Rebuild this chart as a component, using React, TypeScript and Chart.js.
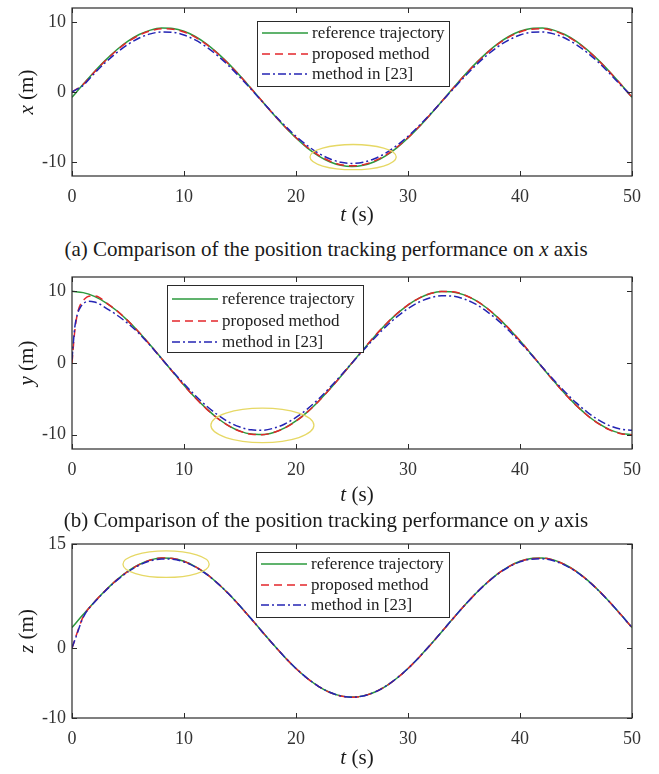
import React, { useEffect, useRef } from "react";
import { Chart, registerables } from "chart.js";

Chart.register(...registerables);

// ---------------- DATA ----------------
const T = [0,1,2,3,4,5,6,7,8,9,10,11,12,13,14,15,16,17,18,19,20,21,22,23,24,25,26,27,28,29,30,31,32,33,34,35,36,37,38,39,40,41,42,43,44,45,46,47,48,49,50];
const T_Y = [0,0.25,0.5,0.8,1.1,1.5,2,2.5,3,4,5,6,7,8,9,10,11,12,13,14,15,16,17,18,19,20,21,22,23,24,25,26,27,28,29,30,31,32,33,34,35,36,37,38,39,40,41,42,43,44,45,46,47,48,49,50];
const T_Z = [0,0.3,0.6,0.9,1.2,2,3,4,5,6,7,8,9,10,11,12,13,14,15,16,17,18,19,20,21,22,23,24,25,26,27,28,29,30,31,32,33,34,35,36,37,38,39,40,41,42,43,44,45,46,47,48,49,50];

const X_TICKS = [0, 10, 20, 30, 40, 50];
const XY_TICKS = [-10, 0, 10];
const Z_TICKS = [-10, 0, 15];

const SERIES_LABELS = ["reference trajectory", "proposed method", "method in [23]"];

// x axis (panel a)
const xReference = [-0.75,1.11,2.89,4.55,6.03,7.26,8.21,8.84,9.13,9.07,8.67,7.93,6.88,5.56,4.02,2.31,0.49,-1.37,-3.21,-4.97,-6.57,-7.97,-9.11,-9.96,-10.47,-10.65,-10.47,-9.96,-9.11,-7.97,-6.57,-4.97,-3.21,-1.37,0.49,2.31,4.02,5.56,6.88,7.93,8.67,9.07,9.13,8.84,8.21,7.26,6.03,4.55,2.89,1.11,-0.75];
const xProposed = [0,1.09,2.86,4.5,5.96,7.18,8.12,8.74,9.03,8.97,8.57,7.84,6.8,5.5,3.97,2.28,0.48,-1.37,-3.19,-4.92,-6.51,-7.89,-9.02,-9.86,-10.38,-10.55,-10.38,-9.86,-9.02,-7.89,-6.51,-4.92,-3.19,-1.37,0.48,2.28,3.97,5.5,6.8,7.84,8.57,8.97,9.03,8.74,8.12,7.18,5.96,4.5,2.86,1.09,-0.75];
const xMethod23 = [0,0.96,2.66,4.24,5.63,6.8,7.71,8.3,8.58,8.53,8.14,7.44,6.44,5.19,3.73,2.1,0.38,-1.39,-3.14,-4.8,-6.33,-7.65,-8.74,-9.54,-10.03,-10.2,-10.03,-9.54,-8.74,-7.65,-6.33,-4.8,-3.14,-1.39,0.38,2.1,3.73,5.19,6.44,7.44,8.14,8.53,8.58,8.3,7.71,6.8,5.63,4.24,2.66,0.96,-0.6];

// y axis (panel b)
const yReference = [10,9.82,9.3,8.44,7.29,5.88,4.26,2.49,0.63,-1.25,-3.09,-4.82,-6.37,-7.71,-8.76,-9.51,-9.92,-9.98,-9.69,-9.05,-8.09,-6.85,-5.36,-3.68,-1.87,0,1.87,3.68,5.36,6.85,8.09,9.05,9.69,9.98,9.92,9.51,8.76,7.71,6.37,4.82,3.09,1.25,-0.63,-2.49,-4.26,-5.88,-7.29,-8.44,-9.3,-9.82,-10];
const yProposed = [0,4.5,7.0,8.3,8.9,9.3,9.35,9.1,8.46,7.3,5.88,4.25,2.47,0.61,-1.27,-3.12,-4.85,-6.4,-7.73,-8.78,-9.53,-9.94,-10.0,-9.71,-9.07,-8.11,-6.86,-5.36,-3.67,-1.86,0.02,1.89,3.7,5.38,6.87,8.1,9.06,9.7,9.99,9.93,9.52,8.77,7.72,6.38,4.83,3.1,1.25,-0.63,-2.5,-4.28,-5.9,-7.31,-8.46,-9.33,-9.86,-10.05];
const yMethod23 = [0.5,5.0,6.9,7.9,8.4,8.6,8.5,8.2,7.7,6.7,5.5,4.1,2.4,0.59,-1.18,-2.9,-4.53,-5.99,-7.24,-8.24,-8.94,-9.33,-9.38,-9.1,-8.51,-7.6,-6.43,-5.04,-3.46,-1.76,0,1.76,3.46,5.04,6.43,7.6,8.51,9.1,9.38,9.33,8.94,8.24,7.24,5.99,4.53,2.9,1.18,-0.59,-2.34,-4.0,-5.53,-6.85,-7.94,-8.74,-9.23,-9.4];

// z axis (panel c)
const zReference = [3.0,4.87,6.68,8.36,9.85,11.09,12.05,12.69,12.98,12.92,12.51,11.76,10.71,9.37,7.82,6.09,4.25,2.37,0.51,-1.26,-2.88,-4.29,-5.44,-6.3,-6.82,-7.0,-6.82,-6.3,-5.44,-4.29,-2.88,-1.26,0.51,2.37,4.25,6.09,7.82,9.37,10.71,11.76,12.51,12.92,12.98,12.69,12.05,11.09,9.85,8.36,6.68,4.87,3.0];
const zProposed = [0,1.5,2.9,4.2,5.1,6.66,8.35,9.84,11.08,12.04,12.7,12.99,12.93,12.5,11.75,10.7,9.36,7.81,6.08,4.24,2.36,0.5,-1.27,-2.89,-4.3,-5.45,-6.31,-6.84,-7.02,-6.84,-6.31,-5.45,-4.3,-2.89,-1.27,0.5,2.36,4.24,6.08,7.81,9.36,10.7,11.75,12.5,12.91,12.97,12.68,12.04,11.08,9.84,8.35,6.67,4.86,2.99];
const zMethod23 = [0.1,1.4,2.8,4.1,5.05,6.62,8.3,9.78,11.0,11.95,12.58,12.85,12.8,12.42,11.7,10.67,9.35,7.81,6.09,4.25,2.37,0.51,-1.26,-2.88,-4.29,-5.44,-6.3,-6.83,-7.01,-6.83,-6.3,-5.44,-4.29,-2.88,-1.26,0.51,2.37,4.25,6.09,7.8,9.34,10.66,11.7,12.43,12.82,12.87,12.58,11.96,11.02,9.8,8.33,6.66,4.86,3.0];

// highlighted regions (data units): centre t, centre value, half-width t, half-height value
const ellipseX = [25.1, -9.3, 3.85, 1.8];
const ellipseY = [17.0, -8.7, 4.6, 2.4];
const ellipseZ = [8.4, 12.1, 3.85, 1.9];

// ---------------- STYLE ----------------
const FONT = '"Liberation Serif", "Times New Roman", serif';
const GREEN = "#2b9a3d";
const RED = "#e3262b";
const BLUE = "#2424b4";
const AXIS = "#2a2a2a";
const ELLIPSE = "#e6d865";

type Series = { t: number[]; v: number[]; color: string; dash: number[] };
type Panel = {
  canvasTop: number;
  chartTop: number;
  chartBottom: number;
  yMin: number;
  yMax: number;
  yTicks: number[];
  series: Series[];
  legend: { dx: number; dy: number; w: number; h: number; rows: number[] };
  ellipse: number[];
};

const DASHES = [[], [8, 5], [8, 3, 2, 3]];
const COLORS = [GREEN, RED, BLUE];

function makeSeries(ts: number[][], vs: number[][]): Series[] {
  return vs.map((v, i) => ({ t: ts[i], v, color: COLORS[i], dash: DASHES[i] }));
}

const AXIS_H = 40;

const PANELS: Panel[] = [
  {
    canvasTop: 0, chartTop: 8, chartBottom: 176, yMin: -12, yMax: 12, yTicks: XY_TICKS,
    series: makeSeries([T, T, T], [xReference, xProposed, xMethod23]),
    legend: { dx: 185, dy: 13, w: 192, h: 65, rows: [12, 33, 53] },
    ellipse: ellipseX,
  },
  {
    canvasTop: 262, chartTop: 277, chartBottom: 449, yMin: -12, yMax: 12, yTicks: XY_TICKS,
    series: makeSeries([T, T_Y, T_Y], [yReference, yProposed, yMethod23]),
    legend: { dx: 95, dy: 8, w: 196, h: 67, rows: [14, 36, 57] },
    ellipse: ellipseY,
  },
  {
    canvasTop: 530, chartTop: 544, chartBottom: 718, yMin: -10, yMax: 15, yTicks: Z_TICKS,
    series: makeSeries([T, T_Z, T_Z], [zReference, zProposed, zMethod23]),
    legend: { dx: 184, dy: 8, w: 193, h: 65, rows: [12, 33, 53] },
    ellipse: ellipseZ,
  },
];

function framePlugin(p: Panel) {
  return {
    id: "frame",
    afterDatasetsDraw(chart: any) {
      const { ctx, chartArea: a, scales } = chart;
      const xs = scales.x;
      const ys = scales.y;
      ctx.save();
      // ellipse
      const [ecx, ecy, erx, ery] = p.ellipse;
      const cx = xs.getPixelForValue(ecx);
      const cy = ys.getPixelForValue(ecy);
      const rx = Math.abs(xs.getPixelForValue(ecx + erx) - cx);
      const ry = Math.abs(ys.getPixelForValue(ecy + ery) - cy);
      ctx.beginPath();
      ctx.ellipse(cx, cy, rx, ry, 0, 0, Math.PI * 2);
      ctx.strokeStyle = ELLIPSE;
      ctx.lineWidth = 1.3;
      ctx.stroke();

      // frame
      ctx.strokeStyle = AXIS;
      ctx.lineWidth = 1.2;
      ctx.strokeRect(a.left, a.top, a.right - a.left, a.bottom - a.top);
      // inward ticks
      const L = 5;
      ctx.lineWidth = 1;
      ctx.beginPath();
      X_TICKS.forEach((v) => {
        const px = Math.round(xs.getPixelForValue(v)) + 0.5;
        ctx.moveTo(px, a.bottom); ctx.lineTo(px, a.bottom - L);
        ctx.moveTo(px, a.top); ctx.lineTo(px, a.top + L);
      });
      p.yTicks.forEach((v) => {
        const py = Math.round(ys.getPixelForValue(v)) + 0.5;
        ctx.moveTo(a.left, py); ctx.lineTo(a.left + L, py);
        ctx.moveTo(a.right, py); ctx.lineTo(a.right - L, py);
      });
      ctx.stroke();

      // legend
      const lg = p.legend;
      const bx = a.left + lg.dx;
      const by = a.top + lg.dy;
      ctx.fillStyle = "#fff";
      ctx.fillRect(bx, by, lg.w, lg.h);
      ctx.strokeStyle = AXIS;
      ctx.lineWidth = 1;
      ctx.strokeRect(bx + 0.5, by + 0.5, lg.w, lg.h);
      ctx.font = `17px ${FONT}`;
      ctx.textBaseline = "middle";
      ctx.textAlign = "left";
      chart.data.datasets.forEach((ds: any, i: number) => {
        const ry2 = by + lg.rows[i];
        ctx.beginPath();
        ctx.setLineDash(ds.borderDash || []);
        ctx.strokeStyle = ds.borderColor;
        ctx.lineWidth = 1.5;
        ctx.moveTo(bx + 5, ry2);
        ctx.lineTo(bx + 51, ry2);
        ctx.stroke();
        ctx.setLineDash([]);
        ctx.fillStyle = "#222";
        ctx.fillText(ds.label, bx + 55, ry2 + 1);
      });
      ctx.restore();
    },
  };
}

function PanelChart({ p }: { p: Panel }) {
  const ref = useRef<HTMLCanvasElement | null>(null);
  const height = p.chartBottom + AXIS_H - p.canvasTop;
  useEffect(() => {
    if (!ref.current) return;
    const chart = new Chart(ref.current, {
      type: "line",
      data: {
        datasets: p.series.map((s, i) => ({
          label: SERIES_LABELS[i],
          data: s.t.map((t, j) => ({ x: t, y: s.v[j] })),
          borderColor: s.color,
          borderDash: s.dash,
          borderWidth: 1.5,
          pointRadius: 0,
          fill: false,
          order: 3 - i,
          cubicInterpolationMode: "monotone",
        })),
      },
      options: {
        animation: false,
        responsive: false,
        maintainAspectRatio: false,
        events: [],
        layout: { padding: { left: 0, right: 27, top: p.chartTop - p.canvasTop, bottom: 0 } },
        plugins: { legend: { display: false }, tooltip: { enabled: false }, title: { display: false } },
        scales: {
          x: {
            type: "linear",
            min: 0,
            max: 50,
            grid: { display: false, drawTicks: false, tickLength: 0 },
            border: { display: false },
            afterBuildTicks: (s: any) => { s.ticks = X_TICKS.map((v) => ({ value: v })); },
            ticks: { font: { family: FONT, size: 18 }, color: "#333", padding: 10, maxRotation: 0, autoSkip: false },
            afterFit: (s: any) => { s.height = AXIS_H; s.paddingLeft = 0; s.paddingRight = 0; },
          },
          y: {
            type: "linear",
            min: p.yMin,
            max: p.yMax,
            grid: { display: false, drawTicks: false, tickLength: 0 },
            border: { display: false },
            afterBuildTicks: (s: any) => { s.ticks = p.yTicks.map((v) => ({ value: v })); },
            ticks: { font: { family: FONT, size: 18 }, color: "#333", padding: 6, autoSkip: false },
            afterFit: (s: any) => { s.width = 72; s.paddingTop = 0; s.paddingBottom = 0; },
          },
        },
      },
      plugins: [framePlugin(p)],
    } as any);
    return () => chart.destroy();
  }, [p]);
  return (
    <canvas
      ref={ref}
      width={659}
      height={height}
      style={{ position: "absolute", left: 0, top: p.canvasTop, width: 659, height }}
    />
  );
}

const textBase: React.CSSProperties = {
  position: "absolute",
  whiteSpace: "nowrap",
  fontFamily: FONT,
  color: "#1a1a1a",
  lineHeight: 1,
};

function Label({ x, y, size, rotate, children }: { x: number; y: number; size: number; rotate?: boolean; children: React.ReactNode }) {
  return (
    <div
      style={{
        ...textBase,
        left: x,
        top: y,
        fontSize: size,
        transform: `translate(-50%, -50%)${rotate ? " rotate(-90deg)" : ""}`,
      }}
    >
      {children}
    </div>
  );
}

export default function App() {
  return (
    <div style={{ position: "absolute", left: 0, top: 0, width: 659, height: 774, background: "#fff", overflow: "hidden" }}>
      {PANELS.map((p, i) => (
        <PanelChart key={i} p={p} />
      ))}
      <Label x={26} y={92} size={21} rotate><i>x</i> (m)</Label>
      <Label x={357} y={214} size={21}><i>t</i> (s)</Label>
      <Label x={326} y={249} size={21}>(a) Comparison of the position tracking performance on <i>x</i> axis</Label>

      <Label x={26} y={363} size={21} rotate><i>y</i> (m)</Label>
      <Label x={357} y={494} size={21}><i>t</i> (s)</Label>
      <Label x={326} y={520} size={21}>(b) Comparison of the position tracking performance on <i>y</i> axis</Label>

      <Label x={26} y={631} size={21} rotate><i>z</i> (m)</Label>
      <Label x={357} y={757} size={21}><i>t</i> (s)</Label>
    </div>
  );
}
